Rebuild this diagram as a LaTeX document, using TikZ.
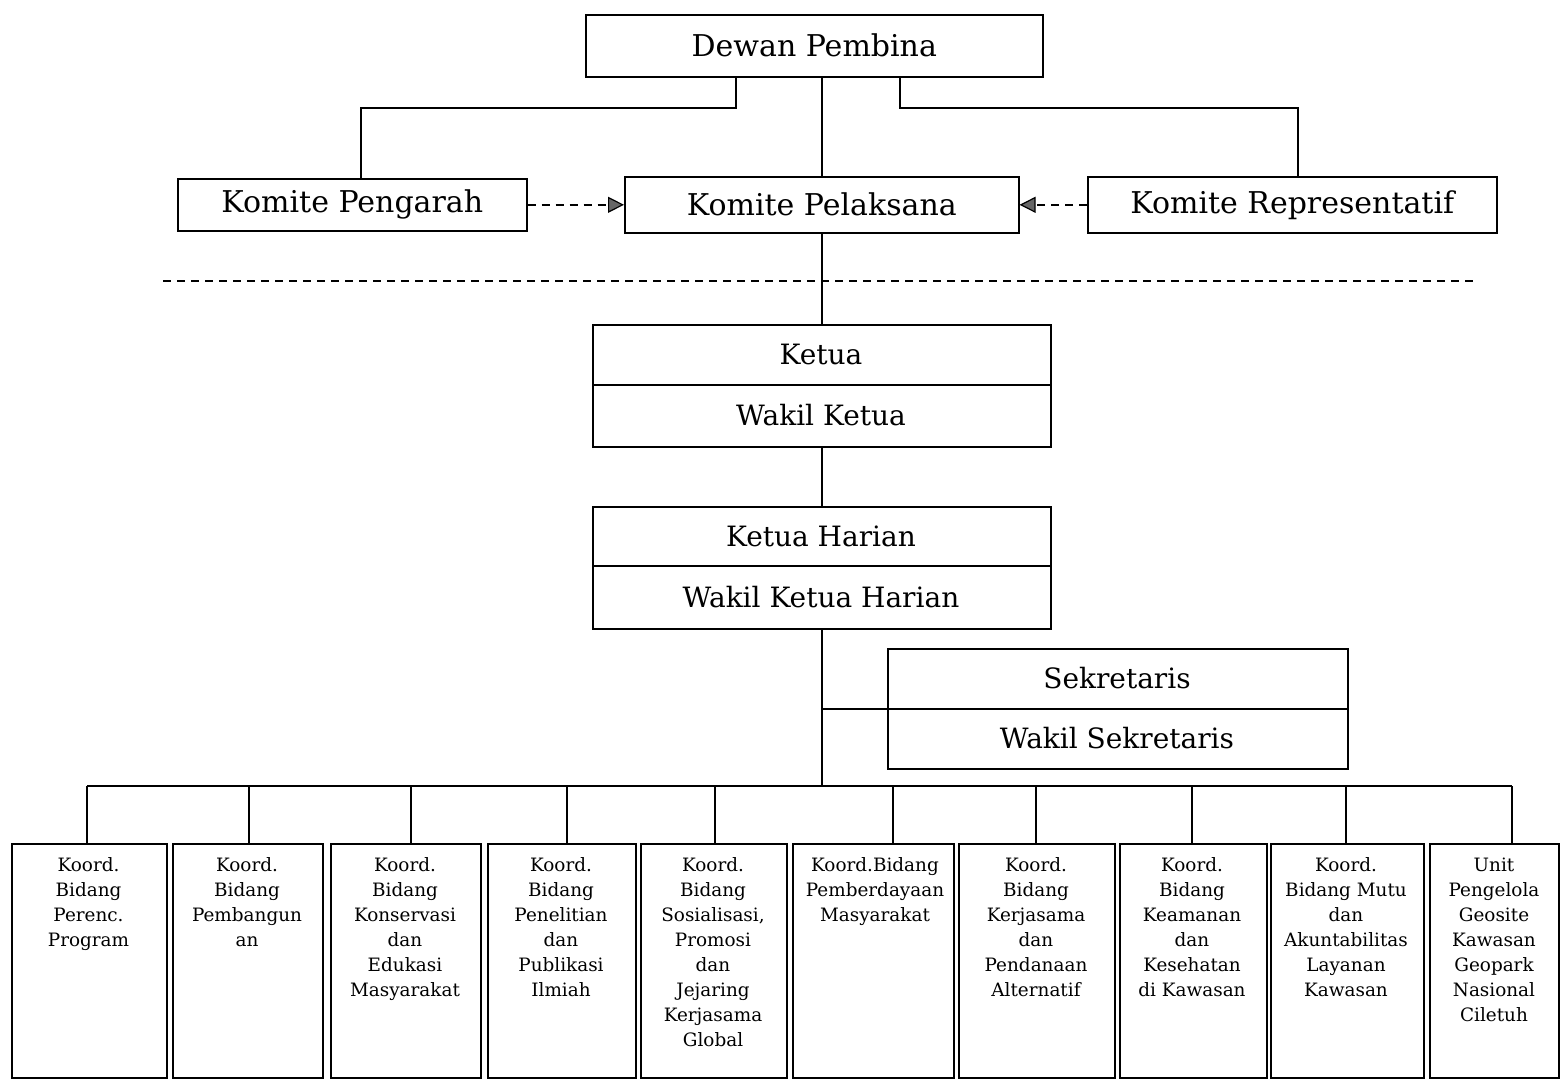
\documentclass[tikz,border=0pt]{standalone}
\usepackage{fontspec}
\setmainfont{DejaVu Serif}
\usetikzlibrary{arrows.meta}
\begin{document}
\begin{tikzpicture}[x=0.5pt,y=-0.5pt, line width=0.8pt,
  box/.style={draw, anchor=north west, inner sep=0pt},
  bigtxt/.style={font=\fontsize{15}{18}\selectfont},
  midtxt/.style={font=\fontsize{14}{17}\selectfont, inner sep=0pt},
  smalltxt/.style={font=\fontsize{9.2}{12.5}\selectfont, align=center, anchor=north, inner sep=0pt},
  dasharr/.style={dash pattern=on 4pt off 3pt, -{Triangle[length=8pt,width=8pt,fill=gray!80!black,line width=0.6pt]}},
]
\useasboundingbox (0,0) rectangle (1560,1083);

% top level
\node[box, bigtxt, minimum width=228.5pt, minimum height=31pt] (dewan) at (585,14) {Dewan Pembina};
\node[box, bigtxt, minimum width=174.5pt, minimum height=26pt] (pengarah) at (177,178) {Komite Pengarah};
\node[box, bigtxt, minimum width=197pt, minimum height=28pt] (pelaksana) at (624,176) {Komite Pelaksana};
\node[box, bigtxt, minimum width=204.5pt, minimum height=28pt] (repr) at (1087,176) {Komite Representatif};

\draw (736,0 |- dewan.south) -- (736,108) -| (361,0 |- pengarah.north);
\draw (900,0 |- dewan.south) -- (900,108) -| (1298,0 |- repr.north);
\draw (pelaksana.north |- dewan.south) -- (pelaksana.north);
\draw[dasharr] (pengarah.east) -- (pelaksana.west);
\draw[dasharr] (repr.west) -- (pelaksana.east);

% separator
\coordinate (sepL) at (163,281);
\coordinate (sepR) at (1478,281);
\draw[dash pattern=on 4pt off 3pt] (sepL) -- (sepR);

% ketua
\node[box, minimum width=229pt, minimum height=61pt] (ketua) at (592,324) {};
\draw (ketua.west |- 0,385) -- (ketua.east |- 0,385);
\node[midtxt] (ketuaA) at (821,354.5) {Ketua};
\node[midtxt] (ketuaB) at (821,415.5) {Wakil Ketua};

% ketua harian
\node[box, minimum width=229pt, minimum height=61pt] (harian) at (592,506) {};
\draw (harian.west |- 0,566) -- (harian.east |- 0,566);
\node[midtxt] (harianA) at (821,536) {Ketua Harian};
\node[midtxt] (harianB) at (821,597) {Wakil Ketua Harian};

% sekretaris
\node[box, minimum width=230pt, minimum height=60pt] (sekr) at (887,648) {};
\draw (sekr.west) -- (sekr.east);
\node[midtxt] (sekrA) at (1117,678.5) {Sekretaris};
\node[midtxt] (sekrB) at (1117,738.5) {Wakil Sekretaris};

\draw (pelaksana.south) -- (pelaksana.south |- ketua.north);
\draw (ketua.south) -- (harian.north);

% bus
\coordinate (busL) at (87,786);
\coordinate (busR) at (1512,786);
\draw (harian.south) -- (harian.south |- busL);
\draw (sekr.west -| harian.south) -- (sekr.west);
\draw (busL) -- (busR);

% bottom boxes
\begin{scope}[line width=0.9pt]
\node[box, minimum width=77.5pt, minimum height=117pt] (b1) at (11,843) {};
\node[box, minimum width=75pt, minimum height=117pt] (b2) at (172,843) {};
\node[box, minimum width=75pt, minimum height=117pt] (b3) at (330,843) {};
\node[box, minimum width=74pt, minimum height=117pt] (b4) at (487,843) {};
\node[box, minimum width=73pt, minimum height=117pt] (b5) at (640,843) {};
\node[box, minimum width=80.5pt, minimum height=117pt] (b6) at (792,843) {};
\node[box, minimum width=78pt, minimum height=117pt] (b7) at (958,843) {};
\node[box, minimum width=73.5pt, minimum height=117pt] (b8) at (1119,843) {};
\node[box, minimum width=76.5pt, minimum height=117pt] (b9) at (1270,843) {};
\node[box, minimum width=64.5pt, minimum height=117pt] (b10) at (1429,843) {};
\end{scope}

\foreach \xx/\bb in {87/b1,249/b2,411/b3,567/b4,715/b5,893/b6,1036/b7,1192/b8,1346/b9,1512/b10}
  \draw (\xx,0 |- busL) -- (\xx,0 |- \bb.north);

\node[smalltxt] (t1) at (88.5,857) {Koord.\\Bidang\\Perenc.\\Program};
\node[smalltxt] (t2) at (247,857) {Koord.\\Bidang\\Pembangun\\an};
\node[smalltxt] (t3) at (405,857) {Koord.\\Bidang\\Konservasi\\dan\\Edukasi\\Masyarakat};
\node[smalltxt] (t4) at (561,857) {Koord.\\Bidang\\Penelitian\\dan\\Publikasi\\Ilmiah};
\node[smalltxt] (t5) at (713,857) {Koord.\\Bidang\\Sosialisasi,\\Promosi\\dan\\Jejaring\\Kerjasama\\Global};
\node[smalltxt] (t6) at (875,857) {Koord.Bidang\\Pemberdayaan\\Masyarakat};
\node[smalltxt] (t7) at (1036,857) {Koord.\\Bidang\\Kerjasama\\dan\\Pendanaan\\Alternatif};
\node[smalltxt] (t8) at (1192,857) {Koord.\\Bidang\\Keamanan\\dan\\Kesehatan\\di Kawasan};
\node[smalltxt] (t9) at (1346,857) {Koord.\\Bidang Mutu\\dan\\Akuntabilitas\\Layanan\\Kawasan};
\node[smalltxt] (t10) at (1494,857) {Unit\\Pengelola\\Geosite\\Kawasan\\Geopark\\Nasional\\Ciletuh};
\end{tikzpicture}
\end{document}
